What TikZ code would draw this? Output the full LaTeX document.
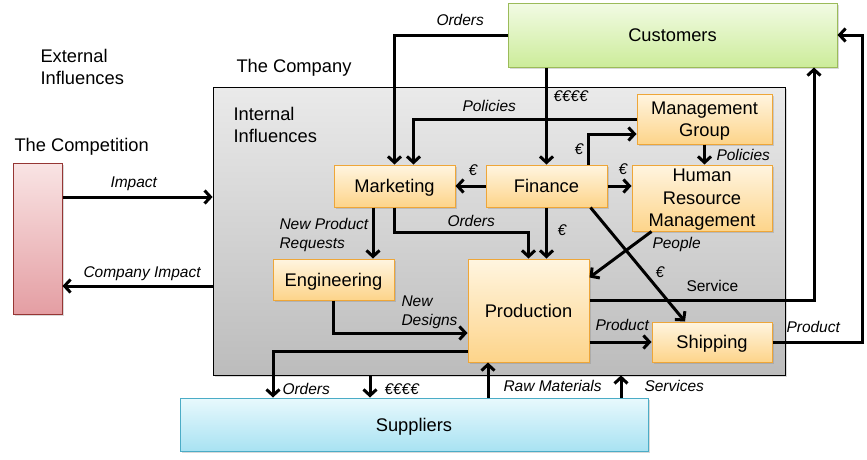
\documentclass[tikz,border=0pt]{standalone}
\usepackage{fontspec}
\setmainfont{Liberation Sans}
\usetikzlibrary{arrows.meta,shadows}
\definecolor{deptTop}{RGB}{255,245,224}
\definecolor{deptBot}{RGB}{253,212,138}
\definecolor{deptLine}{RGB}{238,166,56}
\definecolor{custTop}{RGB}{242,251,228}
\definecolor{custBot}{RGB}{204,236,154}
\definecolor{custLine}{RGB}{155,187,89}
\definecolor{suppTop}{RGB}{232,249,253}
\definecolor{suppBot}{RGB}{168,226,242}
\definecolor{suppLine}{RGB}{75,172,198}
\definecolor{rivalTop}{RGB}{249,228,228}
\definecolor{rivalBot}{RGB}{228,158,163}
\definecolor{rivalLine}{RGB}{150,54,52}
\definecolor{compTop}{RGB}{234,234,234}
\definecolor{compBot}{RGB}{188,188,188}
\begin{document}
\begin{tikzpicture}[x=1pt,y=-1pt,line width=3pt,>={Straight Barb[length=6pt,width=13pt]}]
	\def \toprow{186}
	\def \bigfont{\fontsize{18.3}{22.5}\selectfont}
	\tikzstyle{box}=[rectangle,line width=1pt,inner sep=0pt,align=center,font=\bigfont,text depth=0pt,
		drop shadow={shadow xshift=1.5pt,shadow yshift=-1.5pt,opacity=0.3}]
	\tikzstyle{dept-node}=[box,draw=deptLine,top color=deptTop,bottom color=deptBot]
	\tikzstyle{cust-node}=[box,draw=custLine,top color=custTop,bottom color=custBot]
	\tikzstyle{supp-node}=[box,draw=suppLine,top color=suppTop,bottom color=suppBot]
	\tikzstyle{rival-node}=[box,draw=rivalLine,top color=rivalTop,bottom color=rivalBot]
	\tikzstyle{comp-node}=[box,draw=black,line width=0.8pt,top color=compTop,bottom color=compBot]
	\tikzstyle{title}=[anchor=west,inner sep=0pt,align=left,font=\bigfont]
	\tikzstyle{lbl}=[anchor=west,inner sep=0pt,align=left,text depth=0pt,font=\fontsize{15.5}{19}\selectfont\itshape]
	\tikzstyle{lbl-up}=[lbl,font=\fontsize{15.5}{19}\selectfont]
	\tikzstyle{flow}=[->,line width=3pt]

	\useasboundingbox (0,0) rectangle (867,459);

	% outside
	\node[comp-node,minimum width=572pt,minimum height=288pt] (company) at (499,231) {};
	\node[cust-node,minimum width=329pt,minimum height=64pt] (cust) at (672.5,35) {Customers};
	\node[supp-node,minimum width=468pt,minimum height=53pt] (supp) at (414,424.5) {Suppliers};
	\node[rival-node,minimum width=49pt,minimum height=151pt] (rival) at (37.5,238.5) {};

	\node[title] (t-ext)	at (39,67)	{External\\Influences};
	\node[title] (t-comp)	at (235,68)	{The Company};
	\node[title] (t-int)	at (232,125)	{Internal\\Influences};
	\node[title] (t-rival)	at (13,147)	{The Competition};

	% departments
	\node[dept-node,minimum width=121pt,minimum height=42pt] (mkt)	at (394.5,\toprow)	{Marketing};
	\node[dept-node,minimum width=121pt,minimum height=42pt] (fin)	at (546.5,\toprow)	{Finance};
	\node[dept-node,minimum width=140pt,minimum height=66pt] (hrm)	at (702,198)		{Human\\Resource\\Management};
	\node[dept-node,minimum width=135pt,minimum height=50pt] (mg)	at (704.5,119)		{Management\\Group};
	\node[dept-node,minimum width=121pt,minimum height=41pt] (eng)	at (333.5,279.5)	{Engineering};
	\node[dept-node,minimum width=121pt,minimum height=103pt] (prod)	at (528.5,310.5)	{Production};
	\node[dept-node,minimum width=120pt,minimum height=40pt] (ship)	at (712,342)		{Shipping};

	% competition
	\draw[flow] (rival.east |- 0,197) -- ([yshift=34pt]company.west);
	\draw[flow] ([yshift=-55pt]company.west) -- (rival.east |- 0,286);

	% customers
	\draw[flow] (cust.west) -| (mkt.north);
	\draw[flow] (cust.south -| fin.north) -- (fin.north);
	\draw[flow] ([yshift=10pt]prod.east) -| ([xshift=141.5pt]cust.south);
	\draw[flow] (ship.east) -- ++(90,0) |- (cust.east);

	% inside the company
	\draw[flow] (mg.west) -| ([xshift=19pt]mkt.north);
	\draw[flow] ([xshift=41.5pt]fin.north) |- ([yshift=-15pt]mg.west);
	\draw[flow] (mg.south) -- (mg.south |- hrm.north);
	\path
		(fin.west)	edge[flow]	(mkt.east)
		(fin.east)	edge[flow]	(fin.east -| hrm.west)
		(fin.south)	edge[flow]	(fin.south |- prod.north);
	\draw[flow] ([xshift=-21.5pt]mkt.south) -- ([xshift=-21.5pt]mkt.south |- eng.north);
	\draw[flow] (mkt.south) -- ++(0,25) -| (prod.north);
	\draw[flow] ([xshift=-17pt]fin.south east) -- ([xshift=-27pt]ship.north);
	\draw[flow] ([xshift=20pt]hrm.south west) -- ([yshift=-19pt]prod.north east);
	\draw[flow] (eng.south) |- ([yshift=-22.5pt]prod.west);
	\draw[flow] (ship.west -| prod.east) -- (ship.west);

	% suppliers
	\draw[flow] ([yshift=-40.5pt]prod.west) -| ([xshift=-141pt]supp.north);
	\draw[flow] ([xshift=-129pt]company.south) -- ([xshift=-129pt]company.south |- supp.north);
	\draw[flow] ([xshift=-40.5pt]prod.south |- supp.north) -- ([xshift=-40.5pt]prod.south);
	\draw[flow] ([xshift=122pt]company.south |- supp.north) -- ([xshift=122pt]company.south);

	% labels
	\node[lbl] (l-impact)	at (109,182)	{Impact};
	\node[lbl] (l-cimpact)	at (82,272)	{Company Impact};
	\node[lbl] (l-orders1)	at (435,20)	{Orders};
	\node[lbl] (l-euro4a)	at (552,96)	{€€€€};
	\node[lbl] (l-pol1)	at (461,106)	{Policies};
	\node[lbl] (l-euro1)	at (573,149)	{€};
	\node[lbl] (l-pol2)	at (715,155)	{Policies};
	\node[lbl] (l-euro2)	at (467,170)	{€};
	\node[lbl] (l-euro3)	at (617,169)	{€};
	\node[lbl] (l-npr)	at (278,233.5)	{New Product\\Requests};
	\node[lbl] (l-orders2)	at (446,221)	{Orders};
	\node[lbl] (l-euro5)	at (556,230)	{€};
	\node[lbl] (l-people)	at (651,243)	{People};
	\node[lbl] (l-euro6)	at (654,272)	{€};
	\node[lbl-up] (l-service)	at (685,286)	{Service};
	\node[lbl] (l-nd)	at (400,311)	{New\\Designs};
	\node[lbl] (l-prod1)	at (594,325)	{Product};
	\node[lbl] (l-prod2)	at (785,327)	{Product};
	\node[lbl] (l-orders3)	at (281,389)	{Orders};
	\node[lbl] (l-euro4b)	at (383,389)	{€€€€};
	\node[lbl] (l-raw)	at (502,386)	{Raw Materials};
	\node[lbl] (l-serv)	at (643,386)	{Services};
\end{tikzpicture}
\end{document}
